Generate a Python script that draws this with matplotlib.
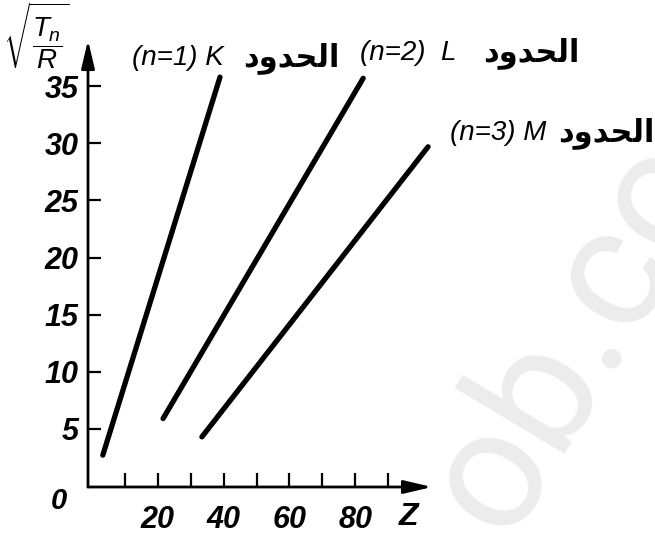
import matplotlib
matplotlib.use('Agg')
import matplotlib.pyplot as plt
from matplotlib.ticker import FixedLocator

# values (Moseley lines, sqrt(T_n/R) against Z)
series = ['K', 'L', 'M']
n_values = [1, 2, 3]
k_z = [3.3, 38.9]
k_y = [2.7, 35.8]
l_z = [21.6, 82.4]
l_y = [5.9, 35.7]
m_z = [33.4, 102.1]
m_y = [4.3, 29.7]
x_major = [20, 40, 60, 80]
x_minor = [10, 30, 50, 70, 90]
y_ticks = [5, 10, 15, 20, 25, 30, 35]

# "الحدود" written in presentation forms, visual order, so it joins without a shaper
arabic = '\uFEA9\uFEED\uFEAA\uFEA4\uFEDF\uFE8D'

plt.rcParams['mathtext.fontset'] = 'custom'
plt.rcParams['mathtext.it'] = 'Liberation Sans:italic'
plt.rcParams['mathtext.rm'] = 'Liberation Sans'

W, H = 655, 535
fig = plt.figure(figsize=(W / 100, H / 100), dpi=100)

def px(x, y):
    return x / W, 1 - y / H

# watermark
fig.text(*px(506, 540), 'ob.co', fontsize=123, color='#ececec', family='Roboto',
         rotation=59, rotation_mode='anchor', ha='left', va='baseline', zorder=0)

ax = fig.add_axes([88 / W, 48 / H, 344 / W, 447 / H])
ax.patch.set_alpha(0)
ax.set_xlim(-1.2, 103.3)
ax.set_ylim(-0.09, 39.05)
for s in ax.spines.values():
    s.set_visible(False)

# axes with arrow heads
arr = dict(arrowstyle='-|>,head_length=1.7,head_width=0.4', lw=2, color='black',
           shrinkA=0, shrinkB=0)
ax.annotate('', xy=(1, 0), xytext=(0, 0), xycoords='axes fraction', arrowprops=arr)
ax.annotate('', xy=(0, 1), xytext=(0, 0), xycoords='axes fraction', arrowprops=arr)

for z, y in [(k_z, k_y), (l_z, l_y), (m_z, m_y)]:
    ax.plot(z, y, color='black', lw=3.8, solid_capstyle='round', clip_on=False)

tick_font = dict(family='Liberation Sans', weight='bold', style='italic', size=22)
ax.xaxis.set_major_locator(FixedLocator(x_major))
ax.xaxis.set_minor_locator(FixedLocator(x_minor))
ax.set_xticklabels([str(v) for v in x_major], fontdict=tick_font)
ax.set_yticks(y_ticks)
ax.set_yticklabels([str(v) for v in y_ticks], fontdict=tick_font)
ax.tick_params(axis='x', which='both', direction='in', length=10, width=1.6, pad=13)
ax.tick_params(axis='y', direction='in', length=9, width=1.6, pad=7)

fig.text(*px(59, 501), '0', ha='center', va='center', family='Liberation Sans',
         weight='bold', style='italic', size=21)
fig.text(*px(408, 517), 'Z', ha='center', va='center', family='Liberation Sans',
         weight='bold', style='italic', size=23)

# y label
fig.text(*px(3, 1), r'$\sqrt{\dfrac{T_n}{R}}$', fontsize=20, ha='left', va='top')

# series labels
lab_font = dict(family='Liberation Sans', style='italic', size=20)
ar_font = dict(family='DejaVu Sans', weight='bold', size=22)
label_pos = [(224, 243, 58), (456, 483, 53), (546, 558, 133)]
for name, n, (xr, xa, yc) in zip(series, n_values, label_pos):
    gap = '  ' if name == 'L' else ' '
    fig.text(*px(xr, yc), f'(n={n}){gap}{name}', ha='right', va='center', **lab_font)
    fig.text(*px(xa, yc), arabic, ha='left', va='center', **ar_font)

fig.savefig('out.png', dpi=100)
